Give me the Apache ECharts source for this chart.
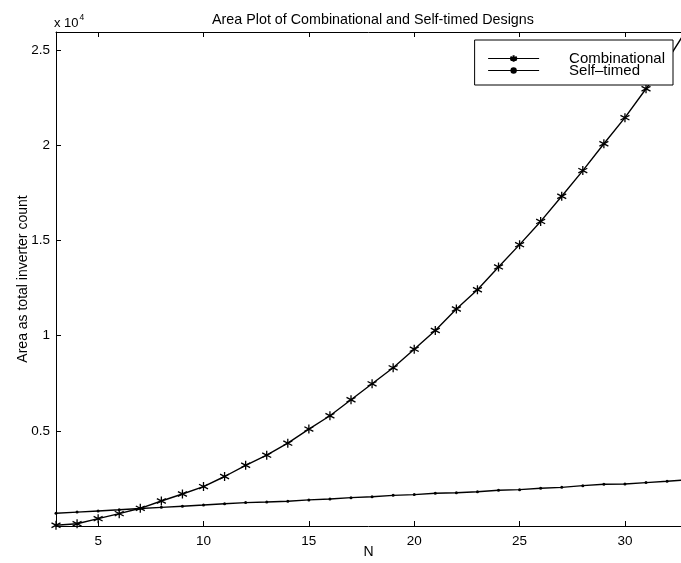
<!DOCTYPE html>
<html>
<head>
<meta charset="utf-8">
<script src="https://cdn.jsdelivr.net/npm/echarts@6/dist/echarts.min.js"></script>
<style>html,body{margin:0;padding:0;background:#fff}#c{width:681px;height:563px}</style>
</head>
<body>
<div id="c"></div>
<script>
const N = [3,4,5,6,7,8,9,10,11,12,13,14,15,16,17,18,19,20,21,22,23,24,25,26,27,28,29,30,31,32,33];
const combinational = [40,120,385,650,930,1315,1680,2070,2600,3190,3720,4350,5090,5790,6630,7470,8310,9290,10270,11400,12410,13610,14780,16000,17320,18670,20080,21450,22970,24450,26200];
const selfTimed = [670,730,790,850,920,980,1040,1100,1170,1230,1260,1300,1370,1420,1490,1540,1610,1650,1720,1750,1800,1880,1910,1980,2030,2120,2190,2210,2280,2350,2430];
const xTicks = [5,10,15,20,25,30];
const yTicks = [5000,10000,15000,20000,25000];
const yTickLabels = ['0.5','1','1.5','2','2.5'];

const font = 'Liberation Sans, Arial, sans-serif';
const chart = echarts.init(document.getElementById('c'));
const star = 'path://M0,-5L0,5M-4.4,-2.6L4.4,2.6M-4.4,2.6L4.4,-2.6';
chart.setOption({
  animation: false,
  backgroundColor: '#fff',
  title: {
    text: 'Area Plot of Combinational and Self-timed Designs',
    left: 368, top: 8, textAlign: 'center',
    textStyle: {fontFamily: font, fontSize: 14.3, fontWeight: 'normal', color: '#000'}
  },
  graphic: [{
    type: 'text', left: 54, top: 13,
    style: {
      text: '{a|x 10}{b|4}',
      rich: {
        a: {fontFamily: font, fontSize: 13, fill: '#000', verticalAlign: 'bottom'},
        b: {fontFamily: font, fontSize: 8.5, fill: '#000', verticalAlign: 'top', padding: [0,0,8,1]}
      }
    }
  }],
  legend: {
    orient: 'vertical', right: 8, top: 40,
    backgroundColor: '#fff', borderColor: '#000', borderWidth: 1,
    padding: [11, 8, 7, 13], itemGap: -3, itemWidth: 51, itemHeight: 8,
    lineStyle: {width: 1},
    textStyle: {fontFamily: font, fontSize: 15, color: '#000', lineHeight: 11, padding: [0,0,0,25]},
    data: ['Combinational', 'Self\u2013timed']
  },
  grid: {left: 56, right: 0, top: 32, bottom: 37, outerBoundsMode: 'none', containLabel: false},
  xAxis: [{
    type: 'value', min: 3, max: 32.66,
    name: 'N', nameLocation: 'middle', nameGap: 19, nameMoveOverlap: false,
    nameTextStyle: {fontFamily: font, fontSize: 14, color: '#000'},
    axisLine: {lineStyle: {color: '#000', width: 1}},
    axisTick: {inside: true, length: 5, customValues: xTicks, lineStyle: {color: '#000'}},
    axisLabel: {customValues: xTicks, fontFamily: font, fontSize: 13.5, color: '#000', margin: 8},
    splitLine: {show: false}
  }, {
    type: 'value', min: 3, max: 32.66, position: 'top',
    axisLine: {show: true, lineStyle: {color: '#000', width: 1}},
    axisTick: {inside: true, length: 5, customValues: xTicks, lineStyle: {color: '#000'}},
    axisLabel: {show: false},
    splitLine: {show: false}
  }],
  yAxis: {
    type: 'value', min: 0, max: 25950,
    name: 'Area as total inverter count', nameLocation: 'middle', nameGap: 26, nameMoveOverlap: false,
    nameTextStyle: {fontFamily: font, fontSize: 14, color: '#000'},
    axisLine: {show: true, lineStyle: {color: '#000', width: 1}},
    axisTick: {show: true, inside: true, length: 5, customValues: yTicks, lineStyle: {color: '#000'}},
    axisLabel: {customValues: yTicks, fontFamily: font, fontSize: 13.5, color: '#000', margin: 6,
      formatter: v => yTickLabels[yTicks.indexOf(v)] ?? ''},
    splitLine: {show: false}
  },
  series: [{
    name: 'Combinational', type: 'line',
    data: N.map((n, i) => [n, combinational[i]]),
    symbol: star, symbolSize: 9, showSymbol: true,
    lineStyle: {color: '#000', width: 1.4},
    itemStyle: {color: 'none', borderColor: '#000', borderWidth: 1.3},
    clip: true
  }, {
    name: 'Self\u2013timed', type: 'line',
    data: N.map((n, i) => [n, selfTimed[i]]),
    symbol: 'circle', symbolSize: 3, showSymbol: true,
    lineStyle: {color: '#000', width: 1.4},
    itemStyle: {color: '#000', borderWidth: 0},
    clip: true
  }]
});
</script>
</body>
</html>
